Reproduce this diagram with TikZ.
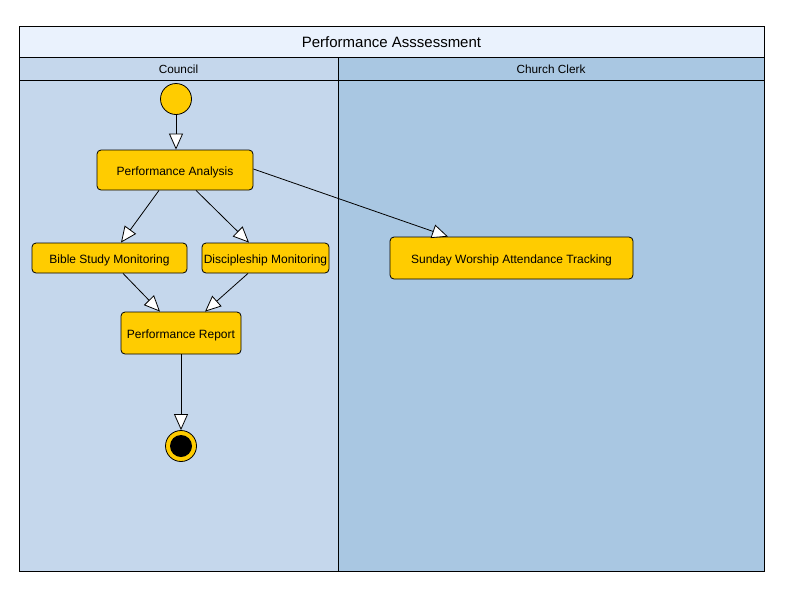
\documentclass[tikz,border=0pt]{standalone}
\usepackage{fontspec}
\setmainfont{Liberation Sans}
\usetikzlibrary{arrows.meta}
\definecolor{titlefill}{HTML}{EAF2FD}
\definecolor{lanea}{HTML}{C5D7EC}
\definecolor{laneb}{HTML}{A9C7E2}
\definecolor{act}{HTML}{FFCC00}
\tikzset{
  actbox/.style={draw=black, fill=act, rounded corners=4pt, line width=0.8pt, inner sep=0pt, text height=10pt, text depth=0pt, font=\fontsize{12}{14}\selectfont},
  flow/.style={draw=black, line width=0.8pt, -{Triangle[open, fill=white, length=16pt, width=14pt]}},
  lanebox/.style={draw=black, line width=0.8pt},
  lanelabel/.style={inner sep=0pt, text height=9pt, text depth=0pt, font=\fontsize{11.8}{13}\selectfont},
}
\begin{document}
\begin{tikzpicture}[x=1pt,y=-1pt]
\useasboundingbox (0,0) rectangle (802,590);
\fill[white] (0,0) rectangle (802,590);
% lanes
\filldraw[lanebox, fill=lanea] (19,57) rectangle (338,571);
\filldraw[lanebox, fill=laneb] (338,57) rectangle (764,571);
\draw[lanebox] (19,80) -- (764,80);
\filldraw[lanebox, fill=titlefill] (19,26) rectangle (764,57);
\node[inner sep=0pt, text height=11pt, text depth=0pt, font=\fontsize{15}{17}\selectfont] (title) at (391.5,42) {Performance Asssessment};
\node[lanelabel] (lane1) at (178.5,69) {Council};
\node[lanelabel] (lane2) at (551,69) {Church Clerk};
% nodes
\node[circle, draw=black, fill=act, minimum size=31pt, inner sep=0pt, line width=0.8pt] (start) at (176,99) {};
\node[actbox, minimum width=156pt, minimum height=40pt] (pa) at (175,170) {Performance Analysis};
\node[actbox, minimum width=155pt, minimum height=30pt] (bsm) at (109.5,258) {Bible Study Monitoring};
\node[actbox, minimum width=127pt, minimum height=30pt] (dm) at (265.5,258) {Discipleship Monitoring};
\node[actbox, minimum width=120pt, minimum height=42pt] (pr) at (181,333) {Performance Report};
\node[actbox, minimum width=243pt, minimum height=42pt] (sw) at (511.5,258) {Sunday Worship Attendance Tracking};
\node[circle, draw=black, fill=act, minimum size=31pt, inner sep=0pt, line width=0.8pt] (end) at (181,446) {};
\node[circle, fill=black, minimum size=22pt, inner sep=0pt] (endin) at (end.center) {};
% flows
\draw[flow] (start.south) -- (pa.north -| start.south);
\draw[flow] ([xshift=-16pt]pa.south) -- ([xshift=11.5pt]bsm.north);
\draw[flow] ([xshift=21pt]pa.south) -- ([xshift=-16.5pt]dm.north);
\draw[flow] ([yshift=1pt]pa.east) -- ([xshift=-63.5pt]sw.north);
\draw[flow] ([xshift=13.5pt]bsm.south) -- ([xshift=-21pt]pr.north);
\draw[flow] ([xshift=-17.5pt]dm.south) -- ([xshift=24pt]pr.north);
\draw[flow] (pr.south) -- (end.north);
\end{tikzpicture}
\end{document}
